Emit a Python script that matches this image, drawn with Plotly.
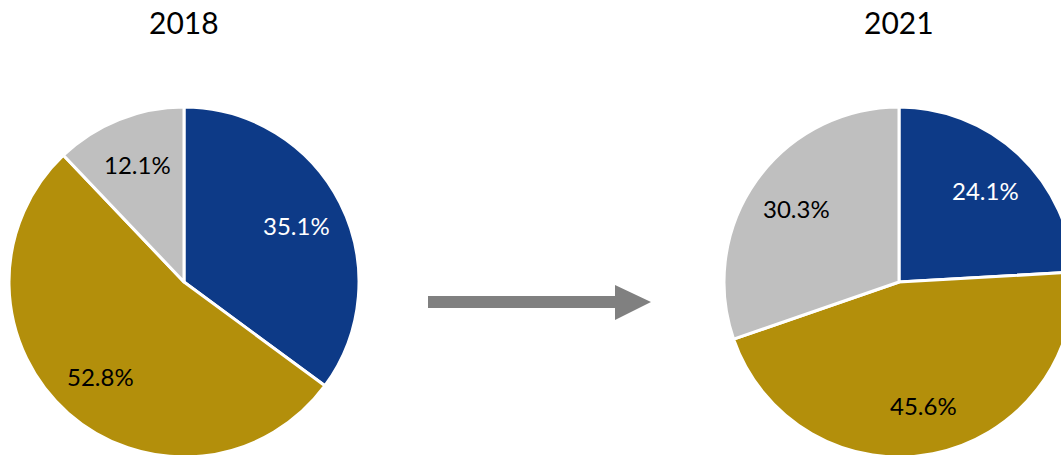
import math
import plotly.graph_objects as go

categories = ["Blue", "Gold", "Grey"]
years = ["2018", "2021"]
values_2018 = [35.1, 52.8, 12.1]
values_2021 = [24.1, 45.6, 30.3]
colors = ["#0D3A87", "#B38F0B", "#BFBFBF"]
text_colors = ["white", "black", "black"]

W, H = 1080, 460
R = 175
LABEL_K = 0.72
centers = [(184, 282), (899, 282)]  # px from top-left

def dom(cx, cy):
    return dict(x=[(cx - R) / W, (cx + R) / W],
                y=[(H - cy - R) / H, (H - cy + R) / H])

fig = go.Figure()
for vals, (cx, cy) in zip([values_2018, values_2021], centers):
    fig.add_trace(go.Pie(
        labels=categories, values=vals, sort=False, direction="clockwise",
        rotation=0, domain=dom(cx, cy),
        marker=dict(colors=colors, line=dict(color="white", width=3)),
        textinfo="none",
        hoverinfo="label+value", showlegend=False,
    ))
    # data labels placed along each slice's mid-angle
    total = sum(vals)
    cum = 0.0
    for v, tc in zip(vals, text_colors):
        mid = (cum + v / 2) / total * 2 * math.pi
        cum += v
        px = cx + LABEL_K * R * math.sin(mid)
        py = cy - LABEL_K * R * math.cos(mid)
        fig.add_annotation(text=f"{v:.1f}%", x=px / W, y=1 - py / H,
                           xref="paper", yref="paper", xanchor="center", yanchor="middle",
                           showarrow=False, font=dict(family="Lato", size=24, color=tc))

for yr, (cx, cy) in zip(years, centers):
    fig.add_annotation(text=yr, x=cx / W, y=1 - 22 / H, xref="paper", yref="paper",
                       xanchor="center", yanchor="middle", showarrow=False,
                       font=dict(family="Lato", size=30, color="black"))

# arrow (decorative)
x0, x1, x2 = 428 / W, 615 / W, 651 / W
ys0, ys1 = 1 - 296 / H, 1 - 308 / H
yh0, yh1 = 1 - 285 / H, 1 - 320 / H
ym = 1 - 302 / H
fig.add_shape(type="path", xref="paper", yref="paper",
              path=f"M {x0} {ys0} L {x1} {ys0} L {x1} {yh0} L {x2} {ym} L {x1} {yh1} L {x1} {ys1} L {x0} {ys1} Z",
              fillcolor="#808080", line=dict(width=0))

fig.update_layout(width=W, height=H, margin=dict(l=0, r=0, t=0, b=0),
                  paper_bgcolor="white", plot_bgcolor="white")

fig.write_html("out.html", config={"displayModeBar": False},
               post_script="document.body.style.margin='0';document.body.style.overflow='hidden';document.documentElement.style.overflow='hidden';")
